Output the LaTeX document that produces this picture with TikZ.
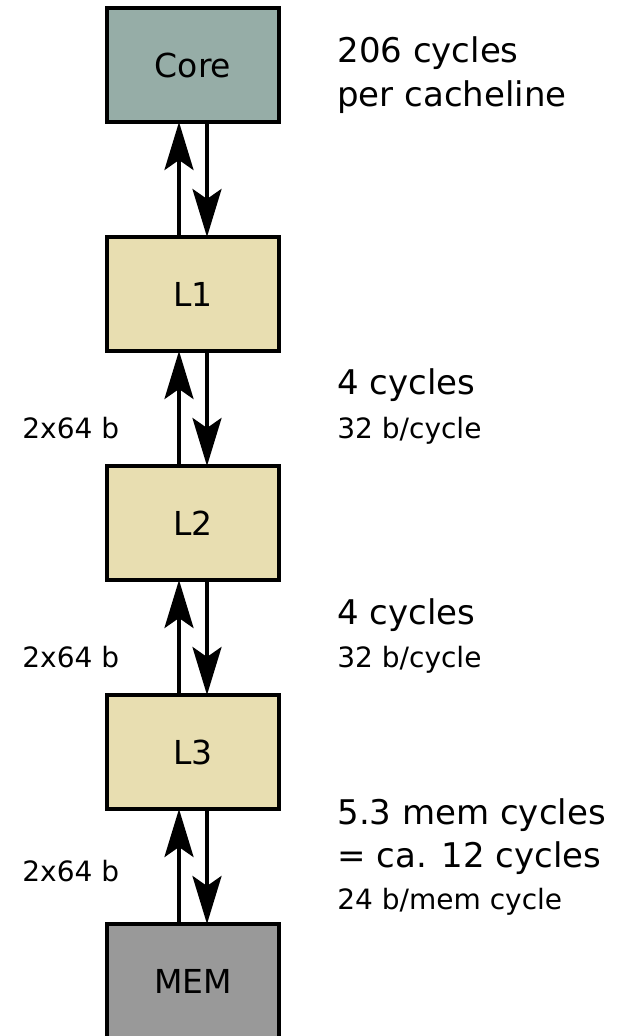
\documentclass[tikz,border=0pt]{standalone}
\usepackage{fontspec}
\setmainfont{DejaVu Sans}
\usepackage{xcolor}
\usepackage{tikz}
\usetikzlibrary{arrows.meta}

\definecolor{corefill}{HTML}{96ADA7}
\definecolor{cachefill}{HTML}{E8DEB1}
\definecolor{memfill}{HTML}{999999}

\tikzset{
  level/.style={draw=black, line width=2pt, minimum width=86pt, minimum height=57pt,
    inner sep=0pt, outer sep=0pt, font=\fontsize{16.5}{20}\selectfont},
  bus/.style={line width=2pt, -{Stealth[length=24pt, width=14.5pt, inset=5pt]}},
  lat/.style={anchor=base west, inner sep=0pt, font=\fontsize{17}{20}\selectfont},
  bw/.style={anchor=base west, inner sep=0pt, font=\fontsize{14}{17}\selectfont}
}

\begin{document}
\begin{tikzpicture}[x=0.5pt, y=-0.5pt]
  \useasboundingbox (0,0) rectangle (621,1036);

  % ── memory hierarchy ──
  \node[level, fill=corefill]  (core) at (193,65)  {Core};
  \node[level, fill=cachefill] (l1)   at (193,294) {L1};
  \node[level, fill=cachefill] (l2)   at (193,523) {L2};
  \node[level, fill=cachefill] (l3)   at (193,752) {L3};
  \node[level, fill=memfill]   (mem)  at (193,981) {MEM};

  % ── up / down transfers ──
  \foreach \up/\down in {core/l1, l1/l2, l2/l3, l3/mem} {
    \draw[bus] ([xshift=-7pt]\down.north) -- ([xshift=-7pt]\up.south);
    \draw[bus] ([xshift=7pt]\up.south) -- ([xshift=7pt]\down.north);
  }

  % ── latencies ──
  \node[lat] (latcore)  at (337,63)  {206 cycles};
  \node[lat] (latcoreb) at (337,107) {per cacheline};
  \node[lat] (latl1)    at (337,395) {4 cycles};
  \node[lat] (latl2)    at (337,624) {4 cycles};
  \node[lat] (latmem)   at (337,824) {5.3 mem cycles};
  \node[lat] (latmemb)  at (337,867) {= ca. 12 cycles};

  % ── bandwidths ──
  \node[bw] (bwl1)  at (337,438) {32 b/cycle};
  \node[bw] (bwl2)  at (337,667) {32 b/cycle};
  \node[bw] (bwmem) at (337,909) {24 b/mem cycle};

  % ── line sizes ──
  \node[bw] (szl1)  at (22,438) {2x64 b};
  \node[bw] (szl2)  at (22,667) {2x64 b};
  \node[bw] (szmem) at (22,881) {2x64 b};
\end{tikzpicture}
\end{document}
